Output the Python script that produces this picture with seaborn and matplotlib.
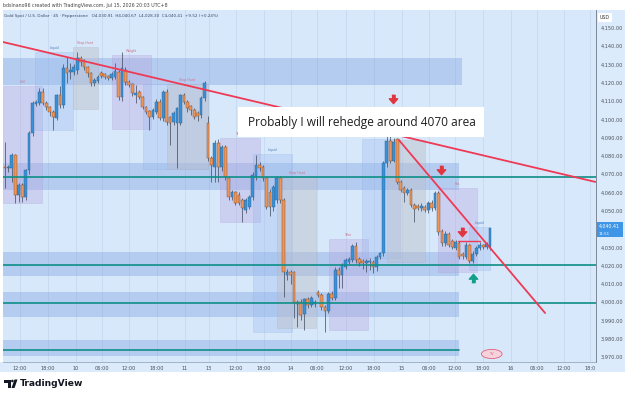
import numpy as np
import pandas as pd
import seaborn as sns
import matplotlib.pyplot as plt
from matplotlib.patches import Rectangle, Ellipse, Polygon

# 45-minute XAUUSD candles
opens = [4074.0, 4073.4, 4073.4, 4080.5, 4058.6, 4064.1, 4057.5, 4072.3, 4092.6, 4108.5,
         4109.0, 4115.0, 4109.0, 4106.8, 4104.0, 4100.8, 4113.3, 4107.9, 4128.1, 4125.9,
         4126.0, 4127.0, 4133.6, 4132.5, 4128.7, 4125.4, 4119.9, 4121.0, 4125.4, 4124.8,
         4123.8, 4122.7, 4123.2, 4125.9, 4112.3, 4127.0, 4120.5, 4119.4, 4113.3, 4115.0,
         4112.3, 4106.8, 4104.6, 4101.3, 4104.0, 4109.6, 4100.8, 4115.0, 4101.3, 4098.6,
         4098.0, 4098.0, 4113.3, 4109.6, 4107.3, 4105.1, 4103.5, 4102.4, 4111.7, 4098.0,
         4078.9, 4074.0, 4087.1, 4074.0, 4084.9, 4067.9, 4057.5, 4060.3, 4058.6, 4055.9,
         4050.4, 4052.1, 4057.5, 4068.5, 4075.1, 4074.0, 4067.9, 4060.3, 4052.1, 4055.9,
         4067.9, 4055.9, 4014.9, 4016.5, 4016.5, 4000.1, 4000.0, 3993.5, 4001.7, 3998.5,
         3998.8, 4005.6, 4003.9, 3997.4, 3995.2, 4004.5, 4002.3, 4017.6, 4014.9, 4019.3,
         4022.0, 4023.1, 4030.8, 4023.6, 4022.5, 4021.4, 4022.0, 4022.0, 4019.3, 4024.7,
         4026.9, 4076.1, 4088.2, 4077.3, 4089.0, 4065.8, 4062.5, 4059.7, 4061.4, 4053.2,
         4052.6, 4051.5, 4052.1, 4050.4, 4054.3, 4051.5, 4059.7, 4038.9, 4032.4, 4037.3,
         4033.5, 4029.6, 4032.4, 4026.5, 4024.7, 4031.3, 4022.5, 4026.4, 4029.6, 4031.3,
         4030.2, 4030.91]
highs = [4087.6, 4075.0, 4081.5, 4081.0, 4065.0, 4065.0, 4073.0, 4093.5, 4110.0, 4110.5,
         4117.0, 4117.0, 4110.0, 4107.5, 4105.0, 4114.0, 4118.0, 4130.0, 4134.0, 4131.0,
         4130.0, 4137.0, 4134.5, 4133.0, 4129.0, 4126.0, 4122.5, 4124.5, 4126.5, 4125.5,
         4124.5, 4126.0, 4131.0, 4127.0, 4137.0, 4128.5, 4121.5, 4120.0, 4118.8, 4116.0,
         4113.0, 4107.5, 4105.0, 4106.0, 4111.0, 4111.0, 4116.0, 4116.5, 4102.0, 4104.5,
         4107.0, 4114.0, 4114.5, 4110.5, 4108.0, 4106.0, 4104.5, 4112.5, 4121.0, 4102.0,
         4080.0, 4088.5, 4089.0, 4086.0, 4086.0, 4069.0, 4061.5, 4061.0, 4060.0, 4057.0,
         4057.0, 4058.5, 4071.0, 4080.5, 4076.5, 4075.0, 4069.0, 4062.0, 4064.0, 4069.0,
         4069.0, 4057.0, 4018.0, 4017.5, 4017.0, 4001.0, 4001.5, 4002.5, 4003.0, 4003.5,
         4001.0, 4006.5, 4005.0, 3998.5, 4005.5, 4006.0, 4019.0, 4019.0, 4021.5, 4024.0,
         4024.5, 4032.0, 4032.9, 4024.5, 4023.5, 4023.5, 4024.0, 4023.0, 4026.0, 4027.5,
         4077.0, 4091.0, 4091.0, 4090.0, 4090.0, 4067.0, 4063.5, 4062.5, 4062.5, 4054.0,
         4053.5, 4054.0, 4053.0, 4055.5, 4056.0, 4061.0, 4061.0, 4040.0, 4039.0, 4038.5,
         4034.5, 4034.0, 4033.5, 4027.5, 4033.0, 4032.0, 4028.0, 4031.0, 4033.0, 4032.0,
         4033.0, 4040.67]
lows = [4062.5, 4071.0, 4066.0, 4054.0, 4055.0, 4055.0, 4056.0, 4070.0, 4091.0, 4107.5,
        4108.0, 4108.0, 4105.0, 4102.0, 4094.0, 4099.5, 4106.0, 4106.0, 4120.0, 4122.0,
        4124.5, 4125.0, 4129.0, 4127.0, 4123.0, 4118.0, 4118.5, 4120.0, 4122.5, 4122.0,
        4121.5, 4121.5, 4122.0, 4110.5, 4110.0, 4119.0, 4117.5, 4113.0, 4109.0, 4111.0,
        4105.5, 4103.0, 4094.2, 4100.0, 4103.0, 4099.5, 4099.0, 4097.0, 4086.0, 4097.0,
        4073.4, 4097.0, 4108.5, 4104.0, 4102.5, 4100.0, 4099.0, 4101.0, 4110.0, 4077.0,
        4066.0, 4065.8, 4066.0, 4072.0, 4067.0, 4056.0, 4056.0, 4053.0, 4053.0, 4043.9,
        4049.0, 4051.0, 4056.0, 4067.0, 4072.0, 4066.5, 4051.0, 4047.0, 4050.0, 4054.0,
        4054.5, 4002.8, 4012.0, 4010.0, 3991.4, 3986.4, 3990.0, 3985.0, 3997.0, 3997.5,
        3997.5, 4003.0, 3996.0, 3983.7, 3994.0, 4001.0, 4001.0, 4008.0, 4008.0, 4018.0,
        4021.0, 4022.0, 4021.5, 4020.0, 4018.0, 4016.5, 4017.5, 4016.0, 4017.0, 4023.5,
        4025.5, 4074.0, 4076.0, 4076.5, 4064.5, 4060.0, 4054.8, 4058.5, 4052.0, 4043.9,
        4050.5, 4050.0, 4049.5, 4049.0, 4050.0, 4050.5, 4036.5, 4031.0, 4031.0, 4030.0,
        4029.0, 4028.5, 4023.5, 4023.5, 4023.5, 4021.4, 4021.5, 4025.5, 4028.5, 4029.0,
        4029.0, 4028.30]
closes = [4073.4, 4073.9, 4080.5, 4058.6, 4064.1, 4057.5, 4072.3, 4092.6, 4109.0, 4109.6,
          4115.0, 4109.0, 4106.8, 4104.0, 4101.3, 4113.3, 4107.9, 4128.1, 4125.4, 4127.0,
          4128.5, 4133.6, 4131.4, 4128.7, 4125.4, 4119.9, 4121.6, 4123.2, 4123.8, 4123.2,
          4122.7, 4124.8, 4126.5, 4112.3, 4128.1, 4120.5, 4118.8, 4114.4, 4114.4, 4112.3,
          4106.8, 4104.0, 4101.3, 4105.1, 4109.6, 4100.8, 4115.0, 4098.6, 4098.0, 4103.5,
          4106.2, 4113.3, 4109.6, 4106.2, 4105.1, 4101.3, 4101.9, 4111.7, 4119.9, 4078.9,
          4075.1, 4087.1, 4074.0, 4084.9, 4068.5, 4057.5, 4060.3, 4054.3, 4054.3, 4051.5,
          4055.9, 4057.5, 4069.6, 4075.1, 4073.4, 4067.9, 4052.1, 4052.1, 4063.0, 4067.9,
          4055.9, 4016.5, 4016.5, 4014.9, 4000.1, 3999.0, 3993.0, 4001.7, 3998.5, 4002.3,
          4000.0, 4003.9, 3997.4, 3995.2, 4004.5, 4002.3, 4017.6, 4014.9, 4020.4, 4023.1,
          4023.6, 4030.8, 4023.1, 4021.4, 4021.4, 4022.5, 4022.5, 4019.3, 4024.7, 4026.9,
          4076.1, 4088.2, 4077.3, 4087.6, 4065.8, 4061.4, 4059.7, 4061.4, 4053.2, 4051.0,
          4051.5, 4052.6, 4050.4, 4054.3, 4051.5, 4059.7, 4038.4, 4032.4, 4037.3, 4031.3,
          4030.2, 4032.9, 4024.7, 4025.2, 4031.3, 4022.5, 4026.4, 4029.6, 4031.3, 4030.2,
          4031.8, 4040.41]

# time axis (positions in candle index units)
time_ticks = [4.4, 12.5, 20.6, 28.2, 36.0, 44.2, 52.3, 59.3, 67.2, 75.3, 83.1,
              90.7, 99.1, 107.3, 115.4, 123.3, 130.8, 139.0, 147.1, 154.7, 162.5, 170.1]
time_labels = ["12:00", "18:00", "10", "06:00", "12:00", "18:00", "11", "13", "12:00",
               "18:00", "14", "06:00", "12:00", "18:00", "15", "06:00", "12:00", "18:00",
               "16", "06:00", "12:00", "18:0"]
price_ticks = [3970, 3980, 3990, 4000, 4010, 4020, 4030, 4040, 4050, 4060,
               4070, 4080, 4090, 4100, 4110, 4120, 4130, 4140, 4150]
last_price = 4040.41

# horizontal supply/demand zones (price low, price high)
zone_lows = [4118.8, 4061.4, 4014.3, 3991.9, 3970.6]
zone_highs = [4133.6, 4076.1, 4027.5, 4005.6, 3979.3]
zone_ends = [132.8, 132.0, 132.0, 132.0, 132.0]
level_prices = [4068.5, 4020.4, 3999.3, 3973.9]
level_ends = [171.8, 171.8, 171.8, 132.0]

# vertical boxes: x0, x1, price low, price high, kind, label
box_x0 = [-0.6, 8.7, 19.8, 31.1, 40.1, 47.1, 62.5, 72.1, 79.1, 94.2, 103.8, 111.0, 125.9, 134.9]
box_x1 = [10.8, 19.8, 27.0, 42.4, 59.0, 59.0, 74.1, 83.4, 90.4, 105.5, 114.8, 122.1, 137.2, 141.0]
box_lo = [4054.3, 4094.2, 4105.7, 4094.7, 4072.9, 4072.9, 4043.9, 3983.7, 3985.9, 3984.8,
          4024.2, 4022.0, 4016.5, 4017.6]
box_hi = [4118.3, 4136.9, 4139.6, 4135.2, 4119.4, 4119.4, 4089.8, 4081.1, 4068.5, 4034.6,
          4089.3, 4088.7, 4062.5, 4041.1]
box_kind = ["purple", "blue", "gray", "purple", "blue", "gray", "purple", "blue", "gray",
            "purple", "blue", "gray", "purple", "blue"]
box_text = ["Sell", "Liquid", "Stop Hunt", "Weight", "", "Stop Hunt", "Take", "Liquid",
            "Stop Hunt", "Take", "", "", "Pos", "Liquid"]

sns.set_theme(style="white")
plt.rcParams["font.family"] = ["DejaVu Sans"]

df = pd.DataFrame({"open": opens, "high": highs, "low": lows, "close": closes})
df["idx"] = np.arange(len(df))
df["up"] = df["close"] >= df["open"]

BG = "#d7e8fb"
fig = plt.figure(figsize=(6.25, 3.96), dpi=100, facecolor="white")
W, H = 625, 396


def fx(px):
    return px / W


def fy(py):
    return 1 - py / H


# axis backgrounds (price scale / time scale), kept behind the axes
fig.patches.append(Rectangle((fx(596), fy(372)), fx(29), 362 / H, transform=fig.transFigure,
                             facecolor="#dcebfb", edgecolor="none", zorder=-2))
fig.patches.append(Rectangle((fx(0), fy(372)), fx(596), 10 / H, transform=fig.transFigure,
                             facecolor="#dcebfb", edgecolor="none", zorder=-2))

ax = fig.add_axes([fx(3), fy(362), fx(593), 352 / H])
ax.set_facecolor(BG)

# grid
for t in time_ticks:
    ax.axvline(t, color="#c4d6ec", lw=0.5, zorder=0)

# zones
for lo, hi, end in zip(zone_lows, zone_highs, zone_ends):
    ax.add_patch(Rectangle((-0.6, lo), end + 0.6, hi - lo, facecolor="#6f93dc",
                           alpha=0.33, edgecolor="none", zorder=1))

box_style = {"purple": ("#b7a3dc", "#a68ed0", 0.35),
             "blue": ("#9cbbee", "#86a6e0", 0.35),
             "gray": ("#bcbfca", "#a9adb8", 0.45)}
for x0, x1, lo, hi, kind, lab in zip(box_x0, box_x1, box_lo, box_hi, box_kind, box_text):
    fc, ec, a = box_style[kind]
    ax.add_patch(Rectangle((x0, lo), x1 - x0, hi - lo, facecolor=fc, alpha=a,
                           edgecolor=ec, lw=0.4, zorder=1))
    if lab:
        ax.text((x0 + x1) / 2, hi + 1.2, lab, fontsize=2.3, ha="center", va="bottom",
                color="#d0708a" if kind != "blue" else "#5a7fc0", zorder=2)

# candles
up = df[df["up"]]
dn = df[~df["up"]]
ax.vlines(df["idx"], df["low"], df["high"], color="#3c4758", lw=0.5, zorder=3)
ax.bar(up["idx"], (up["close"] - up["open"]).clip(lower=0.6), bottom=up["open"], width=0.8,
       color="#3a90d6", edgecolor="#2a6496", lw=0.3, zorder=4)
ax.bar(dn["idx"], (dn["open"] - dn["close"]).clip(lower=0.6), bottom=dn["close"], width=0.8,
       color="#ec955a", edgecolor="#80492a", lw=0.3, zorder=4)

# key levels
for p, end in zip(level_prices, level_ends):
    ax.plot([-0.6, end], [p, p], color="#0d8f87", lw=1.2, zorder=5)

# trend lines
trend = pd.DataFrame({"x": [-0.6, 171.6], "y": [4142.3, 4065.8]})
sns.lineplot(data=trend, x="x", y="y", color="#ee3a55", lw=1.3, ax=ax, zorder=5)
steep = pd.DataFrame({"x": [114.5, 157.0], "y": [4088.7, 3994.1]})
sns.lineplot(data=steep, x="x", y="y", color="#ee3a55", lw=1.3, ax=ax, zorder=5)
ax.plot([131.7, 138.1], [4033.5, 4033.5], color="#ee3a55", lw=1.0, zorder=5)

# arrows
down_arrow = [(-0.35, 0.9), (0.35, 0.9), (0.35, 0.15), (0.9, 0.15), (0, -0.9), (-0.9, 0.15), (-0.35, 0.15)]
up_arrow = [(x, -y) for x, y in down_arrow]
ax.plot([112.8, 126.7, 132.8], [4111.2, 4072.3, 4038.4], marker=down_arrow, ms=6,
        color="#e0363f", ls="none", zorder=6)
ax.plot([136.0], [4013.2], marker=up_arrow, ms=6, color="#12a08a", ls="none", zorder=6)

# note
ax.add_patch(Rectangle((67.7, 4090.4), 71.5, 16.4, facecolor="white", edgecolor="none", zorder=7))
ax.text(103.8, 4098.4, "Probably I will rehedge around 4070 area", fontsize=8.6,
        family=["Open Sans", "DejaVu Sans"], color="#1e1e1e", ha="center", va="center", zorder=8)

# watermark badge
ax.add_patch(Ellipse((141.5, 3971.7), 6.0, 5.0, facecolor="#f6d3dc", edgecolor="#e0607a",
                     lw=0.6, zorder=6))
ax.text(141.5, 3971.7, "TV", fontsize=2.5, color="#e0607a", ha="center", va="center", zorder=7)

ax.set_xlim(-0.58, 171.8)
ax.set_ylim(3967.3, 4159.8)
ax.set_xlabel("")
ax.set_ylabel("")
ax.yaxis.tick_right()
ax.set_yticks(price_ticks)
# the live price tag sits over the 4,040 label, as on TradingView
ax.set_yticklabels(["" if abs(p - last_price) < 5 else f"{p:,.2f}" for p in price_ticks])
ax.set_xticks(time_ticks)
ax.set_xticklabels(time_labels)
ax.tick_params(axis="y", length=0, pad=3.5, labelsize=3.6, labelcolor="#4a4f58")
ax.tick_params(axis="x", length=0, pad=2.6, labelsize=3.6, labelcolor="#4a4f58")
for s in ["top", "left"]:
    ax.spines[s].set_visible(False)
ax.spines["right"].set_color("#6d7786")
ax.spines["right"].set_linewidth(0.6)
ax.spines["bottom"].set_color("#8c9bb0")
ax.spines["bottom"].set_linewidth(0.5)

# current price tag
fig.patches.append(Rectangle((fx(597), fy(237)), fx(26), 15 / H, transform=fig.transFigure,
                             facecolor="#3f95e6", edgecolor="none", zorder=5))
fig.text(fx(599), fy(226.3), f"{last_price:,.2f}", fontsize=3.4, color="white", va="center", zorder=6)
fig.text(fx(599), fy(233.6), "11:51", fontsize=2.8, color="white", va="center", zorder=6)
fig.patches.append(Rectangle((fx(598), fy(22)), fx(14), 9 / H, transform=fig.transFigure,
                             facecolor="white", edgecolor="none", zorder=5))
fig.text(fx(600), fy(17.5), "USD", fontsize=3.4, color="#333333", va="center", zorder=6)

# header
fig.text(fx(3), fy(5), "bdslnano96 created with TradingView.com, Jul 15, 2026 20:03 UTC+8",
         fontsize=3.4, color="#444444", va="center")
fig.text(fx(4), fy(15.5), "Gold Spot / U.S. Dollar \u00b7 45 \u00b7 Pepperstone   O4,030.91  H4,040.67"
         "  L4,028.30  C4,040.41  +9.52 (+0.24%)", fontsize=3.0, color="#3a4a6a", va="center")

# TradingView logo
fig.patches.append(Rectangle((fx(4), fy(382.5)), fx(6.5), 3 / H, transform=fig.transFigure,
                             facecolor="#131722", edgecolor="none"))
fig.patches.append(Rectangle((fx(8), fy(388)), fx(2.5), 5.5 / H, transform=fig.transFigure,
                             facecolor="#131722", edgecolor="none"))
fig.patches.append(Ellipse((fx(12.4), fy(381)), fx(2.6), 2.6 / H, transform=fig.transFigure,
                           facecolor="#131722", edgecolor="none"))
fig.patches.append(Polygon([(fx(14.5), fy(379.5)), (fx(17.5), fy(379.5)), (fx(14.5), fy(388)),
                            (fx(11.5), fy(388))], closed=True, transform=fig.transFigure,
                           facecolor="#131722", edgecolor="none"))
fig.text(fx(20), fy(383.5), "TradingView", fontsize=6.6, fontweight="bold", color="#131722",
         va="center")

fig.savefig("out.png", dpi=100, facecolor="white")
print("chart saved")
